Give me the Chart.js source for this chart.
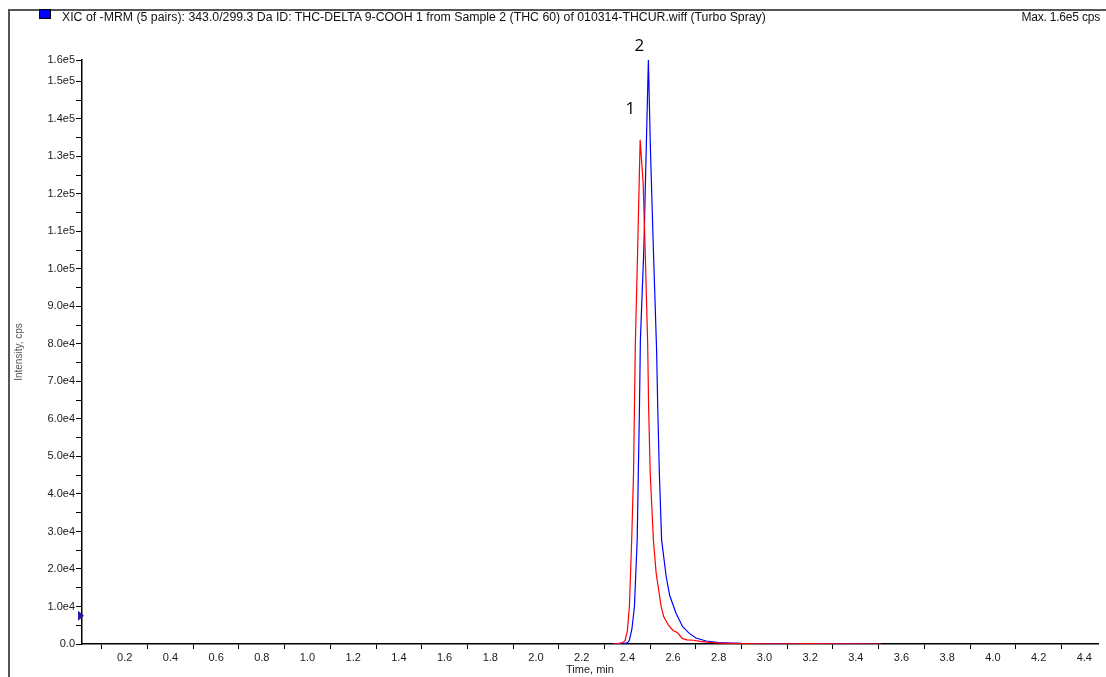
<!DOCTYPE html>
<html>
<head>
<meta charset="utf-8">
<script src="https://cdn.jsdelivr.net/npm/chart.js@4.4.0/dist/chart.umd.min.js"></script>
<style>
  html, body { margin: 0; padding: 0; background: #fff; }
  #wrap { position: relative; width: 1106px; height: 677px; overflow: hidden; }
  #frame { position: absolute; left: 8px; top: 9px; right: -4px; bottom: -4px;
           border-left: 2px solid #555; border-top: 2px solid #555; }
  #swatch { position: absolute; left: 39px; top: 9px; width: 10px; height: 8px;
            background: #0000ff; border: 1px solid #000; }
  .head { position: absolute; top: 11px; font: 12px "Liberation Sans", Arial, sans-serif;
          color: #111; white-space: nowrap; line-height: 13px; }
  #title { left: 62px; font-size: 12.3px; }
  #maxval { right: 6px; letter-spacing: -0.2px; }
  canvas { position: absolute; left: 0; top: 0; }
</style>
</head>
<body>
<div id="wrap">
  <canvas id="xic" width="1106" height="677"></canvas>
  <div id="frame"></div>
  <div id="swatch"></div>
  <div class="head" id="title">XIC of -MRM (5 pairs): 343.0/299.3 Da ID: THC-DELTA 9-COOH 1 from Sample 2 (THC 60) of 010314-THCUR.wiff (Turbo Spray)</div>
  <div class="head" id="maxval">Max. 1.6e5 cps</div>
</div>
<script>
  /************** Data **************/
  // peak 1 (red)
  let redTime = [2.335, 2.36, 2.38, 2.39, 2.40, 2.409, 2.419, 2.427, 2.435, 2.445, 2.456,
                 2.469, 2.478, 2.489, 2.493, 2.500, 2.514, 2.526, 2.548, 2.559, 2.58, 2.60,
                 2.62, 2.64, 2.66, 2.69, 2.72, 2.75, 2.80, 2.85, 2.90, 3.00, 3.10, 3.20,
                 3.30, 3.40, 3.51];
  let redCps  = [0, 100, 400, 900, 3500, 10000, 27700, 45600, 80000, 105000, 134400,
                 123000, 105000, 80000, 63300, 45600, 27700, 18900, 10000, 7300, 5000, 3600,
                 3000, 1500, 1100, 1000, 700, 500, 250, 150, 100, 50, 50, 100,
                 50, 50, 0];
  // peak 2 (blue)
  let blueTime = [2.34, 2.38, 2.40, 2.409, 2.42, 2.431, 2.443, 2.448, 2.453, 2.457, 2.472,
                  2.492, 2.501, 2.514, 2.528, 2.533, 2.54, 2.55, 2.57, 2.585, 2.613, 2.642,
                  2.67, 2.70, 2.745, 2.80, 2.85, 2.90, 3.00, 3.20, 3.40, 3.51];
  let blueCps  = [0, 100, 300, 1000, 4000, 10000, 27700, 45600, 63000, 81000, 105000,
                  155700, 132000, 105000, 78400, 63000, 45600, 27700, 18000, 13000, 8200, 4600,
                  2900, 1600, 800, 400, 250, 150, 100, 50, 50, 0];

  /************** Axis labels **************/
  let xLabels = ['0.2','0.4','0.6','0.8','1.0','1.2','1.4','1.6','1.8','2.0','2.2',
                 '2.4','2.6','2.8','3.0','3.2','3.4','3.6','3.8','4.0','4.2','4.4'];
  let yLabels = ['0.0','1.0e4','2.0e4','3.0e4','4.0e4','5.0e4','6.0e4','7.0e4','8.0e4',
                 '9.0e4','1.0e5','1.1e5','1.2e5','1.3e5','1.4e5','1.5e5'];
  let yTopLabel = '1.6e5';
  let yMax = 155700;

  let peakLabels = [{ text: '1', x: 2.413, y: 142700 }, { text: '2', x: 2.453, y: 159400 }];
  let markerLevel = 7500;

  function toPoints(t, v) {
    let pts = [];
    for (let i = 0; i < t.length; i++) pts.push({ x: t[i], y: v[i] });
    return pts;
  }

  /************** Peak numbers + axis marker **************/
  const extras = {
    id: 'extras',
    afterDatasetsDraw(chart) {
      const c = chart.ctx, xs = chart.scales.x, ys = chart.scales.y;
      c.save();
      c.fillStyle = '#000';
      c.font = '17px "Open Sans", "Liberation Sans", sans-serif';
      c.textAlign = 'center';
      c.textBaseline = 'middle';
      peakLabels.forEach(p => c.fillText(p.text, xs.getPixelForValue(p.x), ys.getPixelForValue(p.y)));
      // small triangle on the y axis
      const my = ys.getPixelForValue(markerLevel), mx = chart.chartArea.left;
      c.fillStyle = '#1c1ca8';
      c.beginPath();
      c.moveTo(mx - 4, my - 5);
      c.lineTo(mx + 2, my);
      c.lineTo(mx - 4, my + 5);
      c.closePath();
      c.fill();
      c.restore();
    }
  };

  const tickFont = { family: '"Liberation Sans", Arial, sans-serif', size: 11 };

  new Chart(document.getElementById('xic'), {
    type: 'line',
    data: {
      datasets: [
        { data: toPoints(redTime, redCps), borderColor: '#ff0000', borderWidth: 1.2 },
        { data: toPoints(blueTime, blueCps), borderColor: '#0000ff', borderWidth: 1.2 }
      ]
    },
    options: {
      responsive: false,
      animation: false,
      devicePixelRatio: 1,
      layout: { padding: { top: 60, left: 10, right: 8, bottom: 0 } },
      elements: { point: { radius: 0 }, line: { tension: 0 } },
      plugins: { legend: { display: false }, tooltip: { enabled: false } },
      scales: {
        x: {
          type: 'linear', min: 0.013, max: 4.46,
          afterFit: s => { s.height = 33; },
          afterBuildTicks: s => {
            s.ticks = [];
            for (let k = 1; k <= 44; k++) s.ticks.push({ value: k / 10 });
          },
          ticks: {
            autoSkip: false, maxRotation: 0, padding: 2, color: '#1a1a1a', font: tickFont,
            callback: v => {
              let k = Math.round(v * 10);
              return k % 2 === 0 ? xLabels[k / 2 - 1] : '';
            }
          },
          grid: {
            drawOnChartArea: false, tickLength: 5,
            tickColor: ctx => (Math.round(ctx.tick.value * 10) % 2 ? '#000' : 'rgba(0,0,0,0)')
          },
          border: { color: '#000', width: 1.5 },
          title: { display: true, text: 'Time, min', color: '#1a1a1a', font: tickFont, padding: 0 }
        },
        y: {
          type: 'linear', min: 0, max: yMax,
          afterFit: s => { s.width = 72; },
          afterBuildTicks: s => {
            s.ticks = [];
            for (let v = 0; v <= 150000; v += 5000) s.ticks.push({ value: v });
            s.ticks.push({ value: yMax });
          },
          ticks: {
            autoSkip: false, padding: 1, color: '#1a1a1a', font: tickFont,
            callback: v => {
              if (v === yMax) return yTopLabel;
              return v % 10000 === 0 ? yLabels[v / 10000] : '';
            }
          },
          grid: { drawOnChartArea: false, tickLength: 6, tickColor: '#000' },
          border: { color: '#000', width: 1.5 },
          title: { display: true, text: 'Intensity, cps', color: '#555',
                   font: { family: '"Liberation Sans", Arial, sans-serif', size: 10 },
                   padding: { top: 3, bottom: 0 } }
        }
      }
    },
    plugins: [extras]
  });
</script>
</body>
</html>
